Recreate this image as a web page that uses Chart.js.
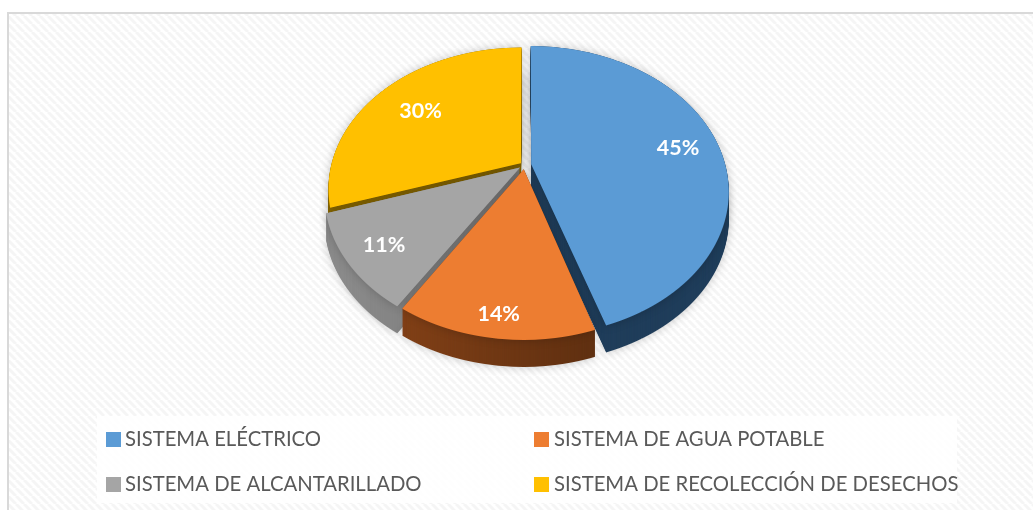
<!DOCTYPE html>
<html>
<head>
<meta charset="utf-8">
<title>Sistemas</title>
<script src="https://cdn.jsdelivr.net/npm/chart.js@4"></script>
<style>
  html, body { margin: 0; padding: 0; background: #fff; }
  canvas { display: block; }
</style>
</head>
<body>
<canvas id="pieChart" width="1033" height="510"></canvas>
<script>
const categories = ['SISTEMA ELÉCTRICO', 'SISTEMA DE AGUA POTABLE', 'SISTEMA DE ALCANTARILLADO', 'SISTEMA DE RECOLECCIÓN DE DESECHOS'];
const percentages = [45, 14, 11, 30];

const faceColors = ['#5b9bd5', '#ed7d31', '#a5a5a5', '#ffc000'];
const wallColors = [['#23405c', '#1f3d5a'], ['#8a4418', '#5c2e10'], ['#8a8a8a', '#6f6f6f'], ['#8a6900', '#7f6000']];
const sliceOffsets = [34, 30, 28, 22];
const labelFractions = [0.84, 0.91, 0.85, 0.73];

// tilted disc: unit circle (x, y) maps to a * x / w, b * y / w with w = 1 + c * y
const tilt = { cx: 524.5, cy: 165, a: 189.5, b: 136.9, c: -0.18, depth: 27 };

function project(x, y) {
  const w = 1 + tilt.c * y;
  return { x: tilt.cx + tilt.a * x / w, y: tilt.cy + tilt.b * y / w };
}

// draw one arc element row by row, each row with its own local scale
function drawTilted(ctx, arc) {
  const R = arc.outerRadius;
  for (let row = 0; row < 400; row++) {
    const Y = row + 0.5 - tilt.cy;
    const y = Y / (tilt.b - tilt.c * Y);
    const w = 1 + tilt.c * y;
    if (w <= 0 || Math.abs(y) > 1.15) continue;
    const sx = tilt.a / (w * R);
    const sy = tilt.b / (w * w * R);
    ctx.save();
    ctx.beginPath();
    ctx.rect(0, row, 1033, 1);
    ctx.clip();
    ctx.setTransform(sx, 0, 0, sy, tilt.cx - arc.x * sx, row + 0.5 - (arc.y + y * R) * sy);
    arc.draw(ctx);
    ctx.restore();
  }
}

function newLayer(chart) {
  const layer = document.createElement('canvas');
  layer.width = chart.width;
  layer.height = chart.height;
  return layer;
}

const tiltedPie = {
  id: 'tiltedPie',
  beforeDatasetsDraw(chart) {
    const ctx = chart.ctx;
    const arcs = chart.getDatasetMeta(0).data;

    // walls first, back slices before front ones
    [3, 2, 0, 1].forEach(i => {
      const arc = arcs[i];
      const layer = newLayer(chart);
      const lctx = layer.getContext('2d');
      const grad = lctx.createLinearGradient(arc.x - arc.outerRadius, 0, arc.x + arc.outerRadius, 0);
      grad.addColorStop(0.1, wallColors[i][0]);
      grad.addColorStop(0.7, wallColors[i][1]);
      const faceOptions = arc.options;
      arc.options = Object.create(faceOptions);
      arc.options.backgroundColor = grad;
      drawTilted(lctx, arc);
      arc.options = faceOptions;

      ctx.save();
      for (let d = tilt.depth; d >= 0; d--) {
        if (d === tilt.depth || d === 0) {
          ctx.shadowColor = 'rgba(0,0,0,0.22)';
          ctx.shadowBlur = 10;
        } else {
          ctx.shadowColor = 'transparent';
          ctx.shadowBlur = 0;
        }
        ctx.drawImage(layer, 0, d);
      }
      ctx.restore();
    });

    arcs.forEach(arc => drawTilted(ctx, arc));
  },
  // the slices are already drawn above
  beforeDatasetDraw() {
    return false;
  },
  afterDatasetsDraw(chart) {
    const ctx = chart.ctx;
    const arcs = chart.getDatasetMeta(0).data;
    ctx.save();
    ctx.fillStyle = '#fff';
    ctx.font = 'bold 21.5px Lato';
    ctx.textAlign = 'center';
    ctx.textBaseline = 'middle';
    arcs.forEach((arc, i) => {
      const mid = (arc.startAngle + arc.endAngle) / 2;
      const p = project(Math.cos(mid) * labelFractions[i], Math.sin(mid) * labelFractions[i]);
      ctx.fillText(percentages[i] + '%', p.x, p.y + 1);
    });
    ctx.restore();
  }
};

// striped sheet, border and the pale box behind the legend
const sheet = {
  id: 'sheet',
  beforeDraw(chart) {
    const ctx = chart.ctx;
    const tile = document.createElement('canvas');
    tile.width = 8;
    tile.height = 8;
    const tctx = tile.getContext('2d');
    tctx.fillStyle = '#fff';
    tctx.fillRect(0, 0, 8, 8);
    tctx.strokeStyle = '#f5f5f5';
    tctx.lineWidth = 3;
    [-8, 0, 8].forEach(o => {
      tctx.beginPath();
      tctx.moveTo(o, 0);
      tctx.lineTo(o + 8, 8);
      tctx.stroke();
    });
    ctx.save();
    ctx.fillStyle = '#fff';
    ctx.fillRect(0, 0, 1033, 510);
    ctx.fillStyle = ctx.createPattern(tile, 'repeat');
    ctx.fillRect(8, 13, 1025, 497);
    ctx.strokeStyle = '#d9d9d9';
    ctx.lineWidth = 2;
    ctx.beginPath();
    ctx.moveTo(8, 510);
    ctx.lineTo(8, 13);
    ctx.lineTo(1033, 13);
    ctx.stroke();
    ctx.fillStyle = 'rgba(255,255,255,0.85)';
    ctx.fillRect(97, 416, 860, 87);
    ctx.restore();
  }
};

const legendBoxes = {
  id: 'legendBoxes',
  afterDraw(chart) {
    const ctx = chart.ctx;
    const boxColumns = [106, 534];
    const textColumns = [125, 554];
    const rows = [439, 484];
    ctx.save();
    ctx.font = '20.3px Lato';
    ctx.textBaseline = 'middle';
    categories.forEach((label, i) => {
      const col = i % 2;
      const y = rows[Math.floor(i / 2)];
      ctx.fillStyle = faceColors[i];
      ctx.fillRect(boxColumns[col], y - 7, 15, 15);
      ctx.fillStyle = '#595959';
      ctx.fillText(label, textColumns[col], y);
    });
    ctx.restore();
  }
};

new Chart(document.getElementById('pieChart'), {
  type: 'pie',
  data: {
    labels: categories,
    datasets: [{
      data: percentages,
      backgroundColor: faceColors,
      borderWidth: 0,
      offset: sliceOffsets
    }]
  },
  options: {
    responsive: false,
    animation: false,
    plugins: {
      legend: { display: false },
      tooltip: { enabled: false }
    }
  },
  plugins: [sheet, tiltedPie, legendBoxes]
});
</script>
</body>
</html>
